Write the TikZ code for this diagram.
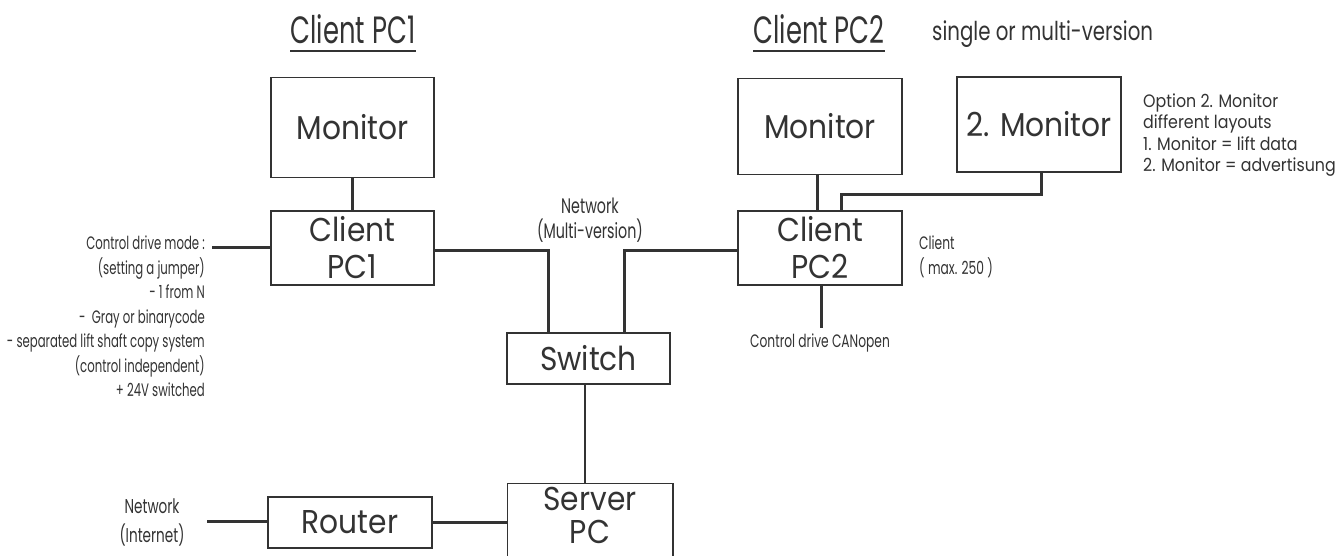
\documentclass[tikz,border=0pt]{standalone}
\usepackage{fontspec}
\setmainfont{Poppins}
\newfontfamily\boxfont[FakeStretch=0.9]{Poppins}
\newfontfamily\cond[FakeStretch=0.68]{Poppins}
\newfontfamily\condl[FakeStretch=0.65]{Poppins}
\newfontfamily\condb[FakeStretch=0.88]{Poppins}
\newfontfamily\condc[FakeStretch=0.76]{Poppins}
\definecolor{ink}{HTML}{333333}
\begin{document}
\begin{tikzpicture}[x=1pt,y=-1pt,
  every node/.style={text=ink},
  dev/.style={draw=ink,line width=1.5pt,inner sep=0pt,align=center,
    font=\boxfont\fontsize{33}{37}\selectfont},
  conn/.style={draw=ink,line width=3pt},
  thin/.style={draw=ink,line width=2pt},
  ttl/.style={anchor=base,inner sep=0pt,font=\cond\fontsize{38}{40}\selectfont},
  small/.style={inner sep=0pt,font=\condl\fontsize{18}{24.5}\selectfont},
  smallb/.style={inner sep=0pt,font=\condb\fontsize{18}{21.5}\selectfont}]
\useasboundingbox (0,0) rectangle (1343,555);
\fill[white] (0,0) rectangle (1343,555);

% titles
\node[ttl] (t1) at (353,43) {Client PC1};
\node[ttl] (t2) at (819,43) {Client PC2};
\draw[ink,line width=2.5pt] ([yshift=-8pt]t1.base west) -- ([yshift=-8pt]t1.base east);
\draw[ink,line width=2.5pt] ([yshift=-8pt]t2.base west) -- ([yshift=-8pt]t2.base east);
\node[anchor=base west,inner sep=0pt,font=\condc\fontsize{26}{28}\selectfont] (sm) at (932,40) {single or multi-version};

% devices
\node[dev,minimum width=163pt,minimum height=100pt] (mon1) at (352.5,127.5) {Monitor};
\node[dev,minimum width=163pt,minimum height=74pt] (cpc1) at (352.5,248) {Client\\PC1};
\node[dev,minimum width=164pt,minimum height=96pt] (mon2) at (820,126.5) {Monitor};
\node[dev,minimum width=164pt,minimum height=95pt] (mon3) at (1039,124.5) {2. Monitor};
\node[dev,minimum width=164pt,minimum height=74pt] (cpc2) at (820,248) {Client\\PC2};
\node[dev,minimum width=163pt,minimum height=51pt] (sw) at (588.5,358.5) {Switch};
\node[dev,minimum width=164pt,minimum height=51pt] (rt) at (350,522.5) {Router};
\node[dev,draw=none,minimum width=164pt,minimum height=73pt] (srv) at (590,520.5) {};
\node[inner sep=0pt,align=center,font=\boxfont\fontsize{33}{33}\selectfont] (srvtxt) at (590,515) {Server\\PC};
\draw[ink,line width=1.5pt] (srv.south west) -- (srv.north west) -- (srv.north east) -- (srv.south east);

% free ends
\coordinate (cdm) at (212,247);
\coordinate (can) at (821,328);
\coordinate (inet) at (207,521);

% connectors
\draw[conn] (mon1.south) -- (mon1.south |- cpc1.north);
\draw[conn] (cdm) -- (cdm -| cpc1.west);
\draw[conn] ([yshift=-2pt]cpc1.east) -| ([xshift=-40.5pt]sw.north);
\draw[conn] ([yshift=-2pt]cpc2.west) -| ([xshift=35.5pt]sw.north);
\draw[thin] ([xshift=-3.5pt]sw.south) -- ([xshift=-3.5pt]sw.south |- srv.north);
\draw[conn] ([xshift=-3pt]mon2.south) -- ([xshift=-3pt]mon2.south |- cpc2.north);
\draw[conn] ([xshift=2pt]mon3.south) -- ++(0,22) -| ([xshift=21pt]cpc2.north);
\draw[conn] ([xshift=1pt]cpc2.south) -- (can);
\draw[conn] (inet) -- (inet -| rt.west);
\draw[conn] (rt.east) -- (rt.east -| srv.west);

% labels
\node[small,align=right,anchor=north east] (cdmtxt) at (205,236)
  {Control drive mode :\\(setting a jumper)\\- 1 from N\ \\-\ \ Gray or binarycode\\- separated lift shaft copy system\\(control independent)\\+ 24V switched};
\node[small,align=center,font=\cond\fontsize{21}{25}\selectfont] (net) at (590,220) {Network\\(Multi-version)};
\node[small,align=left,anchor=west,font=\cond\fontsize{18}{25}\selectfont] (cl) at (919,257) {Client\\( max. 250 )};
\node[small,font=\cond\fontsize{18}{20}\selectfont] (cantxt) at (820,343) {Control drive CANopen};
\node[smallb,align=left,anchor=west] (opt) at (1143,135) {Option 2. Monitor\\different layouts\\1. Monitor = lift data\\2. Monitor = advertisung};
\node[small,align=center,font=\cond\fontsize{20}{29}\selectfont] (nettxt) at (152,522) {Network\\(Internet)};
\end{tikzpicture}
\end{document}
